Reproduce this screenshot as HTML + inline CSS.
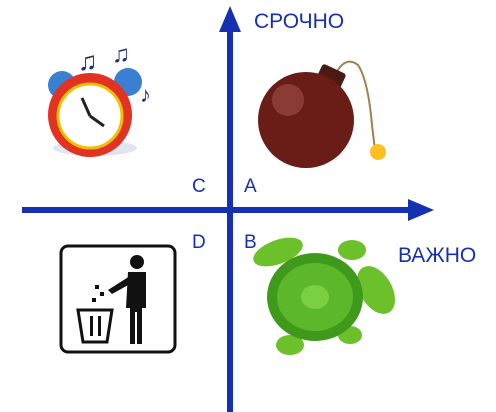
<!DOCTYPE html>
<html><head><meta charset="utf-8"><style>
html,body{margin:0;padding:0;background:#fff}
svg{display:block}
text{font-family:"Liberation Sans","Noto Sans CJK SC",sans-serif}
</style></head><body>
<svg width="496" height="412" viewBox="0 0 496 412">
  <!-- clock -->
  <g>
    <text x="78" y="70" font-size="26" fill="#1c2c7a">♫</text>
    <text x="112" y="62" font-size="24" fill="#1c2c7a">♫</text>
    <text x="140" y="102" font-size="22" fill="#1c2c7a">♪</text>
    <circle cx="62" cy="85" r="14" fill="#3a7fd0"/>
    <circle cx="128" cy="82" r="14" fill="#3a7fd0"/>
    <ellipse cx="95" cy="148" rx="42" ry="8" fill="#dfe6f0"/>
    <circle cx="90" cy="115" r="42" fill="#e23222"/>
    <circle cx="90" cy="116" r="32" fill="#fff" stroke="#f0c000" stroke-width="3"/>
    <line x1="90" y1="116" x2="82" y2="98" stroke="#222" stroke-width="3"/>
    <line x1="90" y1="116" x2="104" y2="126" stroke="#222" stroke-width="3"/>
  </g>
  <!-- bomb -->
  <g>
    <path d="M335 75 Q345 55 358 65 Q368 80 372 125 L375 150" stroke="#a08050" stroke-width="2" fill="none"/>
    <circle cx="378" cy="152" r="8" fill="#ffc020"/>
    <rect x="318" y="68" width="26" height="18" rx="3" fill="#4a1a14" transform="rotate(25 331 77)"/>
    <circle cx="306" cy="120" r="48" fill="#6a1d16"/>
    <circle cx="288" cy="100" r="16" fill="#a05048" opacity="0.6"/>
  </g>
  <!-- trash -->
  <g>
    <rect x="61" y="246" width="114" height="106" rx="7" fill="#fff" stroke="#111" stroke-width="3"/>
    <circle cx="137" cy="262" r="7" fill="#111"/>
    <path d="M128 272 h18 v36 h-4 v36 h-5 v-32 h-2 v32 h-5 v-36 h-4 z" fill="#111"/>
    <path d="M130 276 L108 290 L112 294 L130 284 z" fill="#111"/>
    <path d="M78 310 h34 l-5 32 h-24 z" fill="none" stroke="#111" stroke-width="3"/>
    <rect x="90" y="316" width="3" height="20" fill="#111"/>
    <rect x="98" y="316" width="3" height="20" fill="#111"/>
    <rect x="92" y="298" width="4" height="4" fill="#111"/><rect x="100" y="292" width="4" height="4" fill="#111"/><rect x="95" y="285" width="4" height="4" fill="#111"/>
  </g>
  <!-- turtle -->
  <g>
    <ellipse cx="352" cy="250" rx="14" ry="10" fill="#6cc02a"/>
    <ellipse cx="376" cy="290" rx="16" ry="26" fill="#6cc02a" transform="rotate(-30 376 290)"/>
    <ellipse cx="278" cy="252" rx="26" ry="12" fill="#6cc02a" transform="rotate(-20 278 252)"/>
    <ellipse cx="290" cy="345" rx="14" ry="10" fill="#6cc02a"/>
    <ellipse cx="350" cy="335" rx="12" ry="9" fill="#6cc02a"/>
    <ellipse cx="315" cy="297" rx="48" ry="44" fill="#3f9a1c"/>
    <ellipse cx="315" cy="297" rx="38" ry="34" fill="#5cb82a"/>
    <ellipse cx="315" cy="297" rx="14" ry="12" fill="#7ad040"/>
  </g>
  <!-- axes -->
  <g fill="#1530b0">
    <rect x="227" y="28" width="6" height="384"/>
    <polygon points="230,6 219,32 241,32"/>
    <rect x="22" y="207" width="392" height="6"/>
    <polygon points="434,210 408,199 408,221"/>
  </g>
  <text x="254" y="28" font-size="21" fill="#1530b0">СРОЧНО</text>
  <text x="398" y="262" font-size="21" fill="#1530b0">ВАЖНО</text>
  <text x="192" y="192" font-size="19" fill="#1530b0">C</text>
  <text x="244" y="192" font-size="19" fill="#1530b0">A</text>
  <text x="192" y="248" font-size="19" fill="#1530b0">D</text>
  <text x="244" y="248" font-size="19" fill="#1530b0">B</text>
</svg>
</body></html>
